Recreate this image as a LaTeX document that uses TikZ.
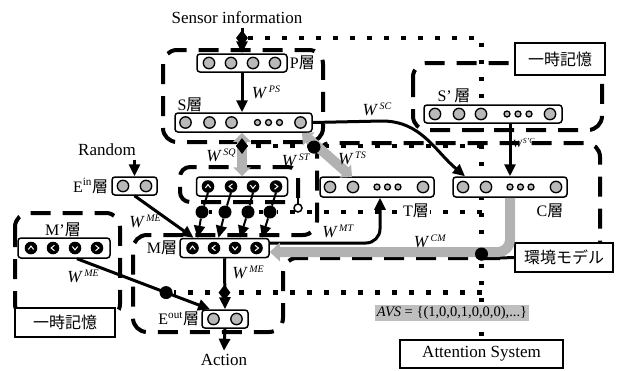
\documentclass[tikz,border=0pt]{standalone}
\usepackage{fontspec}
\setmainfont{Liberation Serif}
\newfontfamily\jpfont{Noto Sans CJK JP}
\usetikzlibrary{positioning,shapes.geometric,arrows.meta,backgrounds}

\tikzset{
  layer/.style={draw, line width=1.5pt, rounded corners=3pt, fill=white, inner sep=0pt},
  gcirc/.style={draw, line width=1.3pt, fill=gray!55},
  memline/.style={line width=4pt, dash pattern=on 20pt off 12pt},
  attline/.style={line width=4.5pt, dash pattern=on 4.5pt off 12.5pt},
  wire/.style={line width=3pt, -{Triangle[length=12pt,width=11pt]}},
  band/.style={line width=10pt, gray!60},
  txtbox/.style={draw, line width=2.4pt, fill=white, inner sep=0pt},
  knob/.style={diamond, fill=black, inner sep=0pt, minimum width=12pt, minimum height=16pt},
  gate/.style={circle, fill=black, inner sep=0pt, minimum size=13pt},
  laylab/.style={font=\fontsize{16}{16}\selectfont, inner sep=1pt},
  wlabel/.style={inner sep=1pt},
}
\newcommand{\layerch}{{\jpfont 層}}
\newcommand{\wlab}[1]{\textit{W}\kern1.5pt\raisebox{6pt}{\fontsize{10}{10}\selectfont\textit{#1}}}
% black unit with a white chevron (0 up, 90 right, 180 down, 270 left)
\newcommand{\dirdot}[2]{\begin{scope}[shift={#1}]
  \fill (0,0) circle (6.3);
  \draw[white, line width=1pt, rotate=#2] (-2.7,1.5) -- (0,-1.9) -- (2.7,1.5);
\end{scope}}
% gray units: large at four places, small at three
\newcommand{\sevenunits}[1]{%
  \foreach \dx in {-58,-34,-12,57} {\draw[gcirc] ([xshift=\dx pt]#1.center) circle (5.7);}
  \foreach \dx in {14,25,36} {\draw[gcirc] ([xshift=\dx pt]#1.center) circle (3);}}
\newcommand{\sixunits}[1]{%
  \foreach \dx in {-47,-24,46} {\draw[gcirc] ([xshift=\dx pt]#1.center) circle (5.7);}
  \foreach \dx in {0,10.5,21} {\draw[gcirc] ([xshift=\dx pt]#1.center) circle (3);}}

\begin{document}
\begin{tikzpicture}[x=1pt, y=-1pt, font=\fontsize{17}{19}\selectfont]
\useasboundingbox (0,0) rectangle (629,370);

% layers
\node[layer, minimum width=90pt, minimum height=18pt] (P) at (242,63) {};
\node[layer, minimum width=137pt, minimum height=19pt] (S) at (243.5,122.5) {};
\node[layer, minimum width=138pt, minimum height=18pt] (Sp) at (493,114) {};
\node[layer, minimum width=91pt, minimum height=19pt] (Q) at (242,186.5) {};
\node[layer, minimum width=114pt, minimum height=20pt] (T) at (377,187) {};
\node[layer, minimum width=114pt, minimum height=20pt] (C) at (510,187) {};
\node[layer, minimum width=45pt, minimum height=18pt] (Ein) at (134.5,186) {};
\node[layer, minimum width=89pt, minimum height=19pt] (M) at (224.5,248) {};
\node[layer, minimum width=92pt, minimum height=20pt] (Mp) at (64,248) {};
\node[layer, minimum width=46pt, minimum height=18pt] (Eout) at (225,319) {};

\foreach \dx in {-33,-11,11,33} {\draw[gcirc] ([xshift=\dx pt]P.center) circle (5.7);}
\sevenunits{S}
\sevenunits{Sp}
\sixunits{T}
\sixunits{C}
\foreach \dx in {-11.5,11.5} {
  \draw[gcirc] ([xshift=\dx pt]Ein.center) circle (5.7);
  \draw[gcirc] ([xshift=\dx pt]Eout.center) circle (5.7);
}
\foreach \dx/\ang in {-34/0,-11/90,11/180,34/270} {\dirdot{([xshift=\dx pt]Q.center)}{\ang}}
\foreach \dx/\ang in {-32/0,-10.5/90,10.5/180,32/270} {\dirdot{([xshift=\dx pt]M.center)}{\ang}}
\foreach \dx/\ang in {-33/0,-11/90,11/180,33/270} {\dirdot{([xshift=\dx pt]Mp.center)}{\ang}}

% boxes with text
\node[txtbox, minimum width=90pt, minimum height=32pt, font=\jpfont\fontsize{16}{16}\selectfont] (mem1) at (560,59) {一時記憶};
\node[txtbox, minimum width=100pt, minimum height=29pt, font=\jpfont\fontsize{16}{16}\selectfont] (mem2) at (65,322.5) {一時記憶};
\node[txtbox, minimum width=98pt, minimum height=29pt, font=\jpfont\fontsize{16}{16}\selectfont] (env) at (564,257.5) {環境モデル};
\node[txtbox, minimum width=163pt, minimum height=28pt] (atn) at (481.5,354) {Attention System};

\node (sensor) at (237,18) {Sensor information};
\node (random) at (107,150) {Random};
\node (action) at (224,360) {Action};

% gates of the attention system
\node[knob] (kn1) at (242,38) {};
\node[knob] (kn2) at (242,146) {};
\node[gate] (kn6) at (314,147) {};
\node[gate] (kn5) at (481.5,254) {};
\foreach \i/\x in {1/202,2/225,3/248,4/270} {\node[gate] (g\i) at (\x,212) {};}
\coordinate (ac) at (481.5,38);

% connectors
\draw[wire] (sensor.south -| P.north) -- (P.north);
\draw[wire] (P.south) -- (P.south |- S.north);
\node[wlabel] at (266,92) {\wlab{PS}};
\draw[wire] (random.south -| Ein.north) -- (Ein.north);
\draw[wire] (Sp.south -| C.north) -- (C.north);
\draw[wire] (S.east) -- (382,121) to[out=0, in=140] ([xshift=-45pt]C.north);
\draw[wire] (Ein.south) -- ([xshift=-31pt]M.north);
\foreach \i/\dx/\tx in {1/-34/-27,2/-11/-6,3/11/15.5,4/34/37.5} {
  \draw[line width=2pt] ([xshift=\dx pt, yshift=-6pt]Q.center) -- (g\i);
  \draw[wire, line width=2pt] (g\i) -- ([xshift=\tx pt]M.north);
}
\coordinate (mt) at (380,243);
\draw[wire, rounded corners=14] (M.east |- mt) -- (mt) -- (mt |- T.south);
\draw[wire] (M.south) -- (Eout.north);
\draw[wire] ([xshift=13pt]Mp.south) -- node[pos=0.67, gate] (kn4) {} ([xshift=-15pt]Eout.north);
\node[knob] (kn3) at (M.south |- kn4) {};
\draw[wire] (Eout.south) -- (action.north);

% gray weight bands
\draw[band, {Triangle[length=9pt,width=17pt]}-{Triangle[length=9pt,width=17pt]}] (S.south -| kn2) -- (Q.north -| kn2);
\draw[band, {Triangle[length=9pt,width=17pt]}-{Triangle[length=9pt,width=17pt]}] (302,133) -- (352,177);
\node[gate] at (kn6) {};
\node[knob] at (kn2) {};
\coordinate (cm) at (510,252);
\draw[band, rounded corners=12, -{Triangle[length=10pt,width=18pt]}] (C.south) -- (C.south |- cm) -- (M.east |- cm);
\node[gate] at (kn5) {};

% small switch near the Q layer
\draw[line width=2pt] (298,198) -- (298,204);
\draw[line width=1.5pt, fill=white] (298,208) circle (4);

% labels
\node[laylab, right=1pt of P] {P\layerch};
\node[laylab] at (190,105) {S\layerch};
\node[laylab] at (454,96) {S’\,\layerch};
\node[laylab, fill=white] at (416,211) {T\layerch};
\node[laylab] at (550,211) {C\layerch};
\node[laylab, left=2pt of Ein] {E\textsuperscript{in}\layerch};
\node[laylab, left=1pt of M] {M\layerch};
\node[laylab] at (63,230) {M’\layerch};
\node[laylab, left=1pt of Eout] {E\textsuperscript{out}\layerch};
\node[wlabel] at (377,109) {\wlab{SC}};
\node[wlabel, font=\fontsize{11}{11}\selectfont] at (524,143) {\textit{W}\textsuperscript{\textit{S’C}}};
\node[wlabel] at (221,155) {\wlab{SQ}};
\node[wlabel] at (296,160) {\wlab{ST}};
\node[wlabel] at (352,158) {\wlab{TS}};
\node[wlabel] at (338,231) {\wlab{MT}};
\node[wlabel] at (430,241) {\wlab{CM}};
\node[wlabel] at (145,221) {\wlab{ME}};
\node[wlabel] at (83,276) {\wlab{ME}};
\node[wlabel] at (248,272) {\wlab{ME}};

% attention lines and memory regions, behind everything
\begin{scope}[on background layer]
  \draw[attline] (kn1) -- (ac) -- (ac |- atn.north);
  \draw[attline] (ac |- kn2) -- (kn2);
  \draw[attline] (ac |- g4) -- (g4) -- (g1);
  \draw[attline] (ac |- kn4) -- (kn4);
  \draw[memline, rounded corners=14] (163,50) rectangle (323,142);
  \draw[memline, rounded corners=14] (413,63) rectangle (602,130);
  \draw[memline, rounded corners=14] (15,213) rectangle (120,318);
  \draw[memline, rounded corners=10] (298,198) -- (298,167) -- (180,167) -- (180,202) -- (285,202);
  \draw[memline, rounded corners=14] (500,258) -- (283,258) -- (283,332) -- (133,332) -- (133,235) -- (317,235) -- (317,143) -- (600,143) -- (600,243);
  \draw[line width=3pt] (500,258) -- (env.west);
\end{scope}
\node[fill=gray!50, inner sep=1.5pt, font=\fontsize{14.5}{15}\selectfont] (avs) at (452,313) {\textit{AVS} = \{(1,0,0,1,0,0,0),...\}};
\end{tikzpicture}
\end{document}
